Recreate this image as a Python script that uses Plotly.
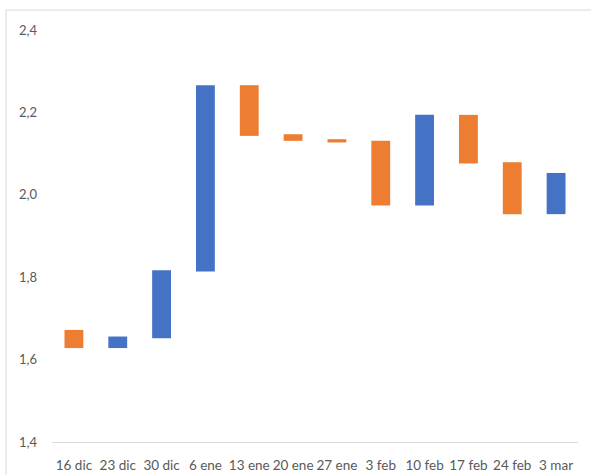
import plotly.graph_objects as go

categories = ["16 dic", "23 dic", "30 dic", "6 ene", "13 ene", "20 ene", "27 ene",
              "3 feb", "10 feb", "17 feb", "24 feb", "3 mar"]
open_vals = [1.672, 1.628, 1.652, 1.814, 2.266, 2.147, 2.135, 2.131, 1.974, 2.194, 2.079, 1.953]
close_vals = [1.628, 1.656, 1.817, 2.266, 2.143, 2.131, 2.127, 1.974, 2.194, 2.076, 1.953, 2.053]

BLUE = "#4472C4"
ORANGE = "#ED7D31"

bases = [min(o, c) for o, c in zip(open_vals, close_vals)]
heights = [abs(c - o) for o, c in zip(open_vals, close_vals)]
colors = [BLUE if c > o else ORANGE for o, c in zip(open_vals, close_vals)]

fig = go.Figure(go.Bar(
    x=categories, y=heights, base=bases,
    marker=dict(color=colors, line=dict(width=0)),
    width=0.43,
))

W, H = 591, 475
L, R, T, B = 52, 13, 30, 33
pw, ph = W - L - R, H - T - B

fig.update_layout(
    width=W, height=H,
    margin=dict(l=L, r=R, t=T, b=B, pad=0),
    paper_bgcolor="white", plot_bgcolor="white",
    separators=", ",
    showlegend=False,
    font=dict(family="Lato", size=13, color="#595959"),
    xaxis=dict(
        type="category", showgrid=False, showline=True, linecolor="#D9D9D9",
        linewidth=1, ticks="", tickfont=dict(size=13.5, color="#595959"),
        ticklabelstandoff=11, automargin=False,
    ),
    yaxis=dict(
        range=[1.4, 2.4], dtick=0.2, tick0=1.4, tickformat=".1f",
        showgrid=False, zeroline=False, showline=False, ticks="",
        tickfont=dict(size=13, color="#595959"), ticklabelstandoff=14,
        automargin=False,
    ),
    shapes=[
        dict(type="line", xref="paper", yref="paper",
             x0=(6 - L) / pw, x1=(W + 5 - L) / pw,
             y0=1 + (T - 10) / ph, y1=1 + (T - 10) / ph,
             line=dict(color="#D9D9D9", width=1)),
        dict(type="line", xref="paper", yref="paper",
             x0=(6 - L) / pw, x1=(6 - L) / pw,
             y0=1 + (T - 10) / ph, y1=-(B + 5) / ph,
             line=dict(color="#D9D9D9", width=1)),
    ],
)

fig.write_html("out.html")
